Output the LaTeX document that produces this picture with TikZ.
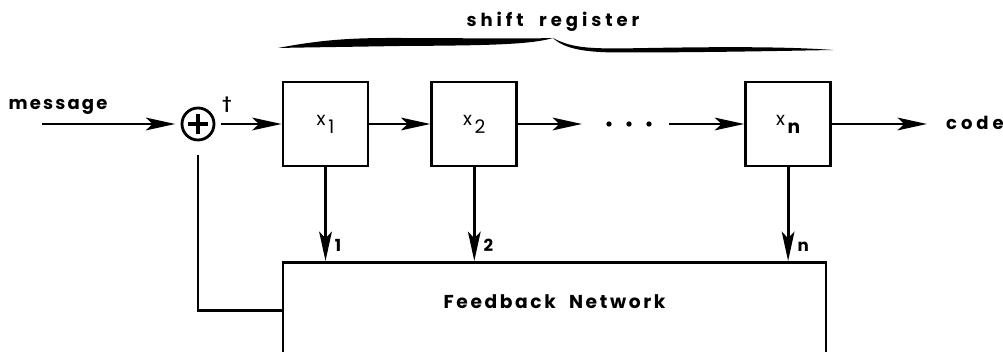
\documentclass[tikz,border=0pt]{standalone}
\usepackage{fontspec}
\setmainfont{Poppins}
\newfontfamily\lblfont[LetterSpace=12]{Poppins}
\usetikzlibrary{arrows.meta,positioning,calc}
\newcommand{\xsub}[1]{x\kern2pt\raisebox{-0.8ex}{#1}}

\begin{document}
\begin{tikzpicture}[
   x=0.75pt, y=0.75pt,
   line width=2.1pt,
   font=\lblfont\bfseries\fontsize{13.5}{15}\selectfont,
   reg/.style={rectangle,draw,minimum width=63.75pt,minimum height=63pt,inner sep=0pt,
               font=\lblfont\mdseries\fontsize{14}{15}\selectfont},
   xorc/.style={circle,draw,minimum size=24pt,inner sep=0pt,
               path picture={\draw[line width=2.3pt]
                 ([yshift=-4.5pt]path picture bounding box.north) -- ([yshift=4.5pt]path picture bounding box.south)
                 ([xshift=4.5pt]path picture bounding box.west) -- ([xshift=-4.5pt]path picture bounding box.east);}},
   fbbox/.style={rectangle,draw,minimum width=407.25pt,inner sep=0pt,
               text height=34.5pt,text depth=48.75pt},
   idx/.style={inner sep=6pt,font=\lblfont\bfseries\fontsize{12.5}{14}\selectfont},
   arr/.style={-{Stealth[length=22pt,width=9.5pt,inset=5pt]}}]
   \clip (0,0) rectangle (1003,352);
   % input and adder
   \node (msg) at (58,245) {message};
   \coordinate (in) at (42,228);
   \node[xorc] (xor) at (198,228) {};
   \node[font=\bfseries\fontsize{11}{12}\selectfont] (dag) at (227,247) {\textdagger};
   % register cells
   \node[reg] (x1) at (325.5,228) {\xsub{1}};
   \node[reg, right=45.75pt of x1] (x2) {\xsub{2}};
   \node[reg, right=169.5pt of x2] (xn) {\xsub{\bfseries n}};
   \coordinate (dotl) at (582,228);
   \coordinate (dotr) at (669,228);
   \coordinate (out) at (927,228);
   \node[font=\lblfont\bfseries\fontsize{13.5}{15}\selectfont\addfontfeature{LetterSpace=22}] (code) at (975,229) {code};
   \draw[arr, shorten >=4pt] (in) -- (xor);
   \draw[arr, shorten <=4pt] (xor) -- (x1);
   \draw[arr] (x1) -- (x2);
   \draw[arr] (x2) -- (dotl);
   \foreach \d in {609,629,649}
      \fill (\d,228) circle (2pt);
   \draw[arr] (dotr) -- (xn);
   \draw[arr] (xn) -- (out);
   % feedback network
   \node[fbbox, anchor=north, font=\lblfont\bfseries\fontsize{14}{15}\selectfont\addfontfeature{LetterSpace=14}] (fb) at (554.5,91) {Feedback \ Network};
   \foreach \r/\k in {x1/1, x2/2, xn/n}
      \draw[arr] (\r) -- (\r |- fb.north) node[idx, above right] {\k};
   \coordinate (tap) at (198,197);
   \draw ([yshift=5.6pt]fb.west) -| (tap);
   % brace over the register
   \fill (278,304) .. controls (320,312) and (350,314) .. (390,314)
         .. controls (460,314) and (520,313) .. (553,314)
         .. controls (530,307) and (480,306.5) .. (400,306)
         .. controls (340,305) and (300,304.5) .. (278,304) -- cycle;
   \fill (553,314) .. controls (570,305) and (585,303.5) .. (620,303.5)
         .. controls (700,305) and (780,306) .. (833,302)
         .. controls (780,301) and (700,299.5) .. (620,299.5)
         .. controls (590,299.5) and (565,302) .. (553,314) -- cycle;
   \node[font=\lblfont\bfseries\fontsize{13.5}{15}\selectfont\addfontfeature{LetterSpace=22}] (title) at (553,330) {shift \ register};
\end{tikzpicture}
\end{document}
